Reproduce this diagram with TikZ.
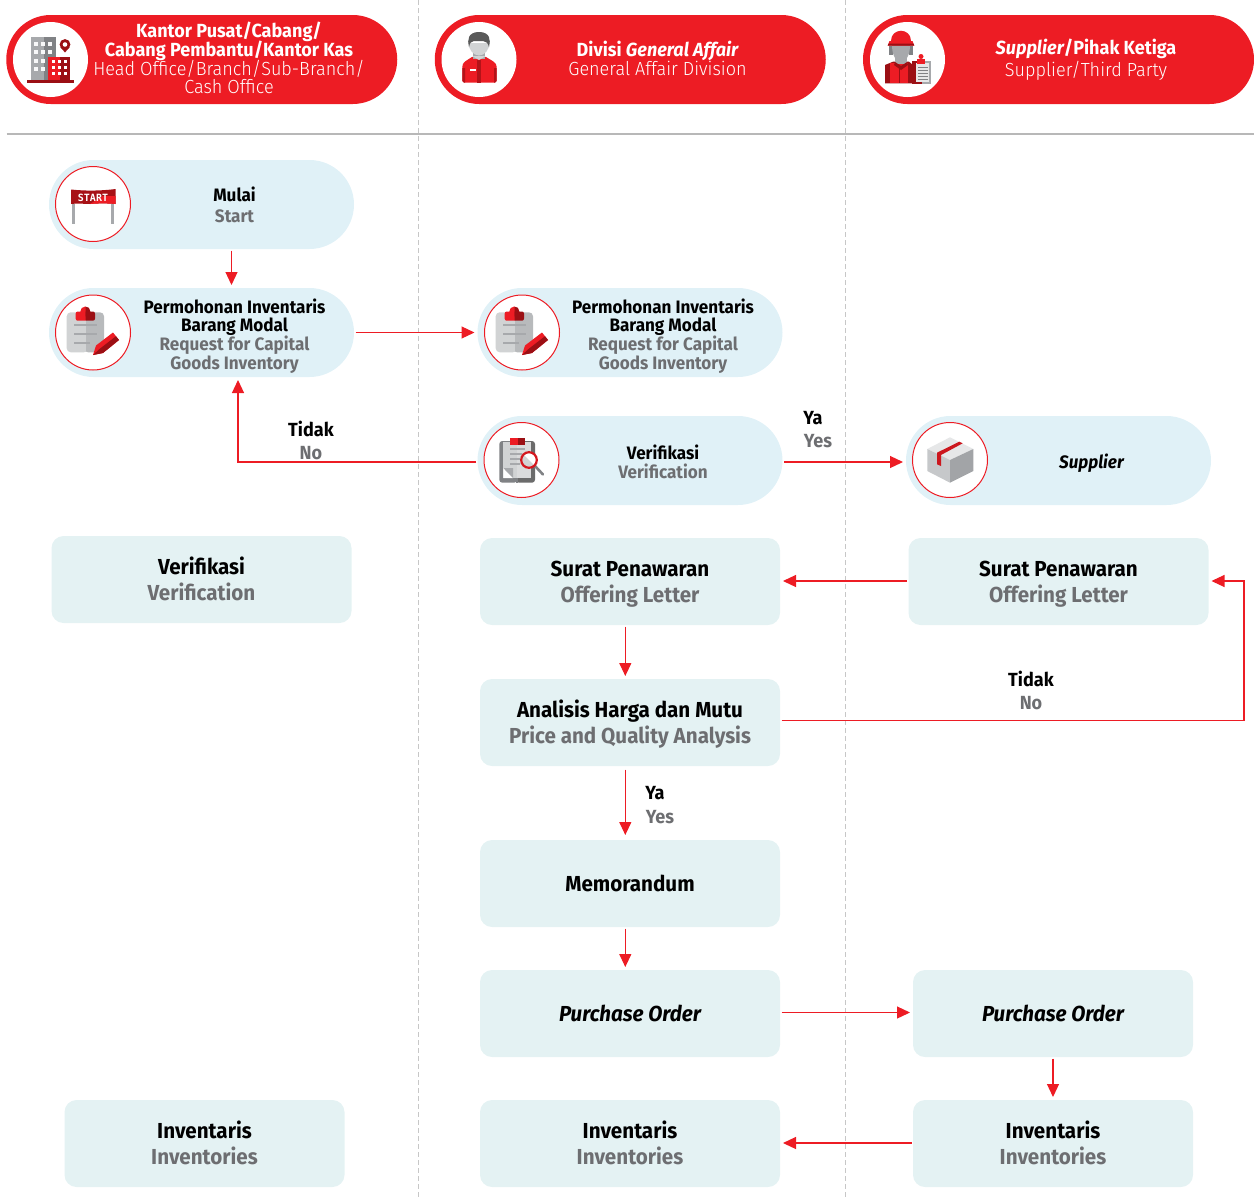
\documentclass[tikz,border=0pt]{standalone}
\usepackage{fontspec}
\setmainfont[FakeStretch=0.95]{Fira Sans}
\newfontfamily\lightf[FakeStretch=0.95]{Fira Sans Light}
\newfontfamily\startf{DejaVu Sans Mono}
\usetikzlibrary{arrows.meta,calc}
\definecolor{hdr}{HTML}{ED1C24}
\definecolor{pillc}{HTML}{E0F1F7}
\definecolor{boxc}{HTML}{E4F2F3}
\definecolor{gtxt}{HTML}{6D6E71}
\definecolor{dkred}{HTML}{9B0F14}
\definecolor{g1}{HTML}{A7A9AC}
\definecolor{g2}{HTML}{808285}
\definecolor{g3}{HTML}{D1D3D4}
\definecolor{g4}{HTML}{E6E7E8}
\newcommand{\gl}[1]{{\color{gtxt}#1}}
\newcommand{\gb}[1]{{\color{gtxt}#1}\vphantom{g}}
\newcommand{\fl}[1]{\rule{0pt}{21pt}#1}
\newcommand{\wl}[1]{{\lightf #1}}
\newcommand{\tightlines}{\lineskiplimit=-10pt\relax}
\tikzset{
 x=1pt,y=-1pt,
 hdrpill/.style={fill=hdr,draw=none,rounded corners=44.5,minimum width=391,minimum height=89,inner sep=0,outer sep=0},
 hdrcirc/.style={circle,fill=white,draw=none,minimum size=75,inner sep=0},
 pill/.style={fill=pillc,draw=none,rounded corners=44.5,minimum width=305,minimum height=89,inner sep=0,outer sep=1.5},
 pcirc/.style={circle,fill=white,draw=hdr,line width=1,minimum size=75,inner sep=0},
 bx/.style={fill=boxc,draw=none,rounded corners=12,minimum width=300,minimum height=87,inner sep=0,outer sep=1.5,align=center,font=\fontsize{21.7}{25.5}\selectfont\bfseries},
 hdrtxt/.style={align=center,text=white,font=\fontsize{19}{18.8}\selectfont\tightlines,inner sep=0},
 ptxt/.style={align=center,font=\fontsize{18}{18.7}\selectfont\bfseries,inner sep=0},
 lbl/.style={align=center,font=\fontsize{19}{22.5}\selectfont\bfseries,inner sep=0},
 arr/.style={draw=hdr,line width=1.2,shorten >=1.5,-{Triangle[length=13,width=12,fill=hdr]}},
 sepl/.style={draw=black!28,line width=1.4},
 dashl/.style={draw=black!22,line width=0.9,dashed,dash pattern=on 5pt off 3pt},
}
\begin{document}
\begin{tikzpicture}
\useasboundingbox (0,0) rectangle (1254,1200);
% guides
\coordinate (d1t) at (418,0); \coordinate (d1b) at (418,1200);
\coordinate (d2t) at (845,0); \coordinate (d2b) at (845,1200);
\coordinate (hl) at (6.5,134); \coordinate (hr) at (1254,134);
\draw[dashl] (d1t) -- (d1b);
\draw[dashl] (d2t) -- (d2b);
\draw[sepl] (hl) -- (hr);
% headers
\node[hdrpill] (h1) at (201.75,59.5) {};
\node[hdrpill] (h2) at (630.25,59.5) {};
\node[hdrpill] (h3) at (1058.5,59.5) {};
\node[hdrcirc] (h1c) at (50.5,59.5) {};
\node[hdrcirc] (h2c) at (479,59.5) {};
\node[hdrcirc] (h3c) at (907.5,59.5) {};
\node[hdrtxt] (h1t) at (229,58) {\bfseries Kantor Pusat/Cabang/\\\bfseries Cabang Pembantu/Kantor Kas\\\wl{Head Office/Branch/Sub-Branch/}\\\wl{Cash Office}};
\node[hdrtxt] (h2t) at (657.5,58.5) {\bfseries Divisi \itshape General Affair\\\wl{General Affair Division}};
\node[hdrtxt] (h3t) at (1086,60) {{\bfseries\itshape Supplier}{\bfseries /Pihak Ketiga}\\[3pt]\wl{Supplier/Third Party}};
% pills
\node[pill] (mulai) at (201.5,204.5) {};
\node[pill] (req1) at (201.5,332.5) {};
\node[pill] (req2) at (630,332.5) {};
\node[pill] (ver) at (630,460.5) {};
\node[pill] (sup) at (1058.5,460.5) {};
\node[pcirc] (mulaic) at (93,204) {};
\node[pcirc] (req1c) at (93,332.5) {};
\node[pcirc] (req2c) at (522,332.5) {};
\node[pcirc] (verc) at (521.5,460) {};
\node[pcirc] (supc) at (950,460) {};
\node[ptxt] (mulait) at (234.5,205) {Mulai\\[2pt]\gl{Start}};
\node[ptxt] (req1t) at (234.5,336) {Permohonan Inventaris\\Barang Modal\\\gl{Request for Capital}\\\gl{Goods Inventory}};
\node[ptxt] (req2t) at (663,336) {Permohonan Inventaris\\Barang Modal\\\gl{Request for Capital}\\\gl{Goods Inventory}};
\node[ptxt] (vert) at (663,462) {Verifikasi\\\gl{Verification}};
\node[ptxt] (supt) at (1091.5,463) {\itshape Supplier};
% boxes
\node[bx] (v0) at (201.5,579.5) {\fl{Verifikasi}\\\gb{Verification}};
\node[bx] (s1) at (630,581.5) {\fl{Surat Penawaran}\\\gb{Offering Letter}};
\node[bx] (s2) at (1058.5,581.5) {\fl{Surat Penawaran}\\\gb{Offering Letter}};
\node[bx] (an) at (630,722.5) {\fl{Analisis Harga dan Mutu}\\\gb{Price and Quality Analysis}};
\node[bx] (me) at (630,883.5) {Memorandum};
\node[bx] (po1) at (630,1013.5) {\itshape Purchase Order};
\node[bx,minimum width=280] (po2) at (1053,1013.5) {\itshape Purchase Order};
\node[bx,minimum width=280] (i1) at (204.5,1143.5) {\fl{Inventaris}\\\gb{Inventories}};
\node[bx] (i2) at (630,1143.5) {\fl{Inventaris}\\\gb{Inventories}};
\node[bx,minimum width=280] (i3) at (1053,1143.5) {\fl{Inventaris}\\\gb{Inventories}};
% connector guide coordinates
\coordinate (xa) at (231.5,0);
\coordinate (xb) at (238,0);
\coordinate (xc) at (625.3,0);
\coordinate (yv) at (0,462);
\coordinate (ys) at (0,581);
\coordinate (ya) at (0,720.5);
\coordinate (xr) at (1244,0);
\coordinate (yp) at (0,1012.5);
\coordinate (yi) at (0,1143);
% connectors
\draw[arr] (mulai.south -| xa) -- (req1.north -| xa);
\draw[arr] (req1.east) -- (req2.west);
\draw[arr] (ver.west |- yv) -- (xb |- yv) -- (req1.south -| xb);
\draw[arr] (ver.east |- yv) -- (sup.west |- yv);
\draw[arr] (s2.west |- ys) -- (s1.east |- ys);
\draw[arr] (s1.south -| xc) -- (an.north -| xc);
\draw[arr] (an.east |- ya) -- (xr |- ya) -- (xr |- ys) -- (s2.east |- ys);
\draw[arr,shorten >=3.5,shorten <=2] (an.south -| xc) -- (me.north -| xc);
\draw[arr] (me.south -| xc) -- (po1.north -| xc);
\draw[arr] (po1.east |- yp) -- (po2.west |- yp);
\draw[arr] (po2.south) -- (i3.north);
\draw[arr] (i3.west |- yi) -- (i2.east |- yi);
% labels
\node[lbl] (l1) at (311,440.5) {Tidak\\\gl{No}};
\node[lbl] (l2a) at (813,418.5) {Ya};
\node[lbl] (l2b) at (818,441.5) {\gl{Yes}};
\node[lbl] (l3) at (1031,690.5) {Tidak\\\gl{No}};
\node[lbl] (l4a) at (655,793.5) {Ya};
\node[lbl] (l4b) at (660,817) {\gl{Yes}};
% ===== icons =====
% building
\fill[g1] (30.7,36.7) rectangle (43.5,80);
\fill[g2] (43.5,36.7) rectangle (55.7,80);
\foreach \xx in {34,41,48} \foreach \yy in {42,50,59,67} {\fill[white!85!g3] (\xx,\yy) rectangle +(3.8,3.8);}
\fill[hdr] (48.3,56.7) rectangle (60,80);
\fill[dkred] (60,56.7) rectangle (70,80);
\foreach \xx in {52,58,64} \foreach \yy in {60,66,72} {\fill[white] (\xx,\yy) rectangle +(3.4,3.4);}
\fill[dkred] (27,80) rectangle (74,83);
\fill[dkred] (65,44.5) circle (5.4);
\fill[dkred] (60.3,47) -- (69.7,47) -- (65,52.5) -- cycle;
\fill[white] (65,44.5) circle (2.3);
% person
\fill[hdr] (462.3,67) .. controls (462.3,62) and (466,61) .. (472,57) -- (486,57) .. controls (492,61) and (496.7,62) .. (496.7,67) -- (496.7,81) -- (495,82.7) -- (464,82.7) -- (462.3,81) -- cycle;
\fill[dkred!70!hdr] (477,60) rectangle (481,82.7);
\fill[dkred!70!hdr] (462.3,68) -- (465,68) -- (465,82.7) -- (464,82.7) -- (462.3,81) -- cycle;
\fill[dkred!70!hdr] (496.7,68) -- (494,68) -- (494,82.7) -- (495,82.7) -- (496.7,81) -- cycle;
\fill[white] (470,69) rectangle (476,71);
\fill[g1] (473,52) rectangle (485,59);
\fill[g3] (479,60) -- (472,56) -- (486,56) -- cycle;
\fill[g3] (479,55.5) .. controls (473,55.5) and (468.5,49) .. (468.5,43) -- (489.5,43) .. controls (489.5,49) and (485,55.5) .. (479,55.5) -- cycle;
\fill[black!65] (469,47) .. controls (467,40) and (468,32) .. (479,32) .. controls (490,32) and (491,40) .. (489,47) .. controls (488,43) and (486,41) .. (483,41) -- (474,41) .. controls (471,41) and (470,43) .. (469,47) -- cycle;
% worker
\fill[g2] (889,46) rectangle (893,55);
\fill[g2] (909,46) rectangle (913,55);
\fill[dkred] (885,65) -- (893,61.7) -- (909,61.7) -- (913,65) -- (913,83.3) -- (885,83.3) -- cycle;
\fill[hdr] (890,63) rectangle (908,83.3);
\fill[dkred] (898.5,65) rectangle (900,83.3);
\fill[g1] (895,55) rectangle (907,64);
\fill[dkred] (895,62) -- (901,66) -- (901,70) -- (894,65) -- cycle;
\fill[dkred] (907,62) -- (901,66) -- (901,70) -- (908,65) -- cycle;
\fill[g1] (892,45) -- (910,45) .. controls (910,55) and (906,62) .. (901,62) .. controls (896,62) and (892,55) .. (892,45) -- cycle;
\fill[hdr] (891,41) .. controls (891,34) and (896,31) .. (901,30.7) .. controls (906,31) and (911,34) .. (911,41) -- cycle;
\fill[hdr] (887.7,45.7) -- (889.5,41) -- (912.5,41) -- (914.3,45.7) -- cycle;
\fill[dkred] (887.7,45.7) -- (888.5,43.5) -- (913.5,43.5) -- (914.3,45.7) -- cycle;
\fill[dkred] (912.3,60.5) rectangle (931,83.5);
\fill[g1] (921.5,60.5) rectangle (931,83.5);
\fill[g4] (916,63) rectangle (929,82);
\fill[hdr] (917,59) rectangle (925,64);
\fill[hdr] (921,56.5) circle (2.5);
\foreach \yy in {67,70,73,76,79} {\fill[g2] (918,\yy) rectangle (927.5,\yy+1);}
% start
\fill[g1] (72.2,204) rectangle (74.8,224);
\fill[g1] (111,204) rectangle (113.5,224);
\fill[dkred!85!hdr] (71,189.5) .. controls (85,191) and (100,191) .. (115.7,189) -- (115.7,204) .. controls (105,203) and (95,203.5) .. (90,204) .. controls (84,204) and (78,203) .. (71,204) -- cycle;
\fill[hdr] (90,204) -- (103,196) -- (115.7,196) -- (115.7,204) .. controls (105,203) and (95,203.5) .. (90,204) -- cycle;
\node[text=white,font=\fontsize{10}{10}\selectfont\startf\bfseries,inner sep=0] (starttxt) at (93,197.5) {START};
% clipboards
\foreach \dx/\dy in {0/0,429/0} {
\begin{scope}[shift={(\dx,\dy)}]
\fill[g3,rounded corners=4] (66.7,312.3) rectangle (88,352.3);
\fill[g1!60!g3,rounded corners=4] (84,312.3) rectangle (104,352.3);
\fill[g3] (84,315) rectangle (86,352.3);
\fill[g1] (74,324) rectangle (97,326.2);
\fill[g1] (74,333) rectangle (97,335.2);
\fill[g1] (74,342) rectangle (90,344.2);
\fill[hdr,rounded corners=2] (75.7,311.5) rectangle (87,320.7);
\fill[hdr] (85.3,311.5) circle (5);
\begin{scope}
\clip (85.5,300) rectangle (100,325);
\fill[dkred,rounded corners=2] (75.7,311.5) rectangle (95,320.7);
\fill[dkred] (85.3,311.5) circle (5);
\end{scope}
\fill[hdr] (93,355) -- (96,345.5) -- (113,332.5) -- (119,340) -- (103,353) -- cycle;
\fill[dkred] (93,355) -- (99.5,349) -- (116,336.2) -- (119,340) -- (103,353) -- cycle;
\end{scope}
}
% verification icon
\fill[g2,rounded corners=3] (499.3,441) rectangle (517,482.7);
\fill[black!58,rounded corners=3] (516,441) rectangle (535,482.7);
\fill[g2] (516,443) rectangle (518,482.7);
\fill[g3] (503.3,442) rectangle (517,478);
\fill[g4!80!g1] (517,442) rectangle (531,478);
\fill[white] (503.3,478) -- (503.3,468) -- (513,478) -- cycle;
\fill[g1] (503.3,468) -- (513,468) -- (513,478) -- cycle;
\fill[hdr] (510,437.7) rectangle (517.5,445);
\fill[dkred] (517.5,437.7) rectangle (525,445);
\fill[g1] (510,448) rectangle (525,450);
\fill[g1] (510,453) rectangle (522,455);
\fill[g1] (510,458) rectangle (520,460);
\fill[g1] (510,463) rectangle (520,465);
\draw[g2,line width=2.6,line cap=round] (535,466) -- (543,474.5);
\fill[white] (529,460) circle (7.5);
\begin{scope}
\clip (529,460) circle (7.5);
\fill[g3] (520,451) -- (538,469) -- (520,469) -- cycle;
\end{scope}
\draw[hdr!70!dkred,line width=2.2] (529,460) circle (7.8);
% box icon
\fill[g4] (950,437.3) -- (973.3,449) -- (950,460) -- (927.3,449) -- cycle;
\fill[g3!75!g1] (927.3,449) -- (950,460) -- (950,482.7) -- (927.3,471) -- cycle;
\fill[g1!88!g2] (973.3,449) -- (950,460) -- (950,482.7) -- (973.3,471) -- cycle;
\fill[hdr!60!dkred] (959.3,441.7) -- (962.7,443.3) -- (941,455) -- (941,466) -- (937,464.3) -- (937,452.7) -- cycle;
\end{tikzpicture}
\end{document}
